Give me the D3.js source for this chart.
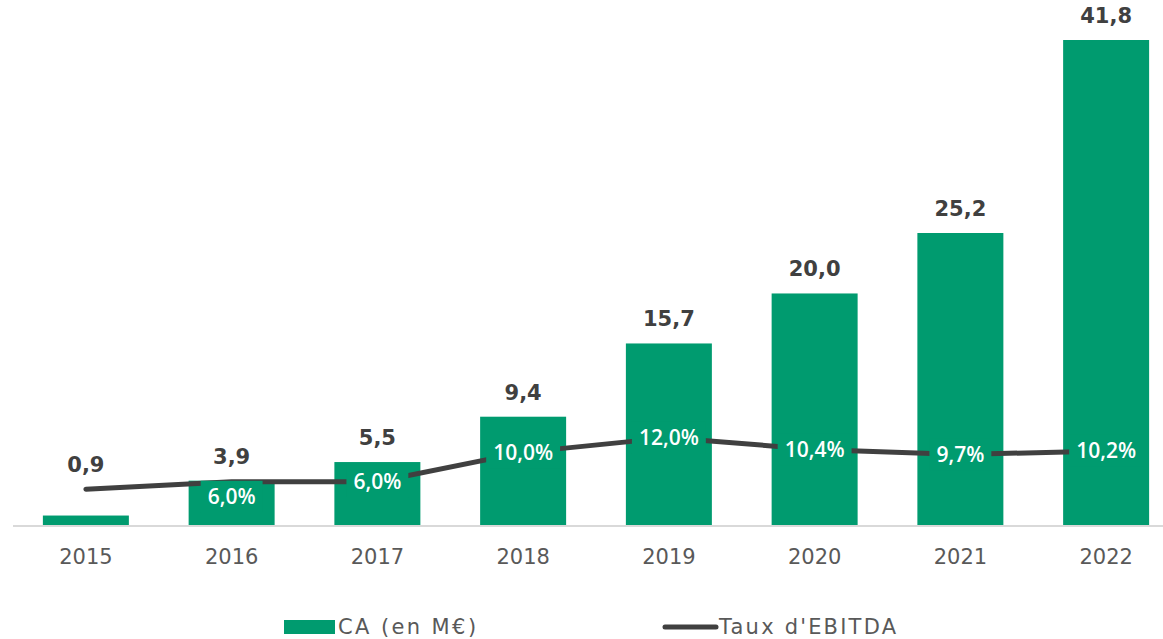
<!DOCTYPE html>
<html>
<head>
<meta charset="utf-8">
<script src="https://cdn.jsdelivr.net/npm/d3@7"></script>
<style>
  body { margin: 0; background: #ffffff; }
  svg { display: block; font-family: "DejaVu Sans", sans-serif; }
</style>
</head>
<body>
<svg id="chart"></svg>
<script>
// chart values
const years = ["2015", "2016", "2017", "2018", "2019", "2020", "2021", "2022"];
const caValues = [0.9, 3.9, 5.5, 9.4, 15.7, 20.0, 25.2, 41.8];
const ebitdaRates = [5.0, 6.0, 6.0, 10.0, 12.0, 10.4, 9.7, 10.2];
const ebitdaLabels = [null, "6,0%", "6,0%", "10,0%", "12,0%", "10,4%", "9,7%", "10,2%"];
const labelsBelow = ["2016"];
const legendNames = ["CA (en M€)", "Taux d'EBITDA"];

const width = 1163;
const height = 639;
const barColor = "#009b6f";
const lineColor = "#404040";
const textGrey = "#595959";

const svg = d3.select("#chart")
    .attr("width", width)
    .attr("height", height);

const baseY = 526;
const topY = 40;

let xScale = d3.scaleBand()
    .domain(years)
    .range([13, 1179])
    .paddingInner(0.41)
    .paddingOuter(0.205);

let yScale = d3.scaleLinear()
    .domain([0, 41.8])
    .range([baseY, topY]);

// secondary axis for the EBITDA rate (not drawn)
let y2Scale = d3.scaleLinear()
    .domain([0, 66])
    .range([baseY, topY]);

const fmt = v => d3.format(".1f")(v).replace(".", ",");
const cx = d => xScale(d) + xScale.bandwidth() / 2;

/* bars */
svg.append("g")
    .selectAll("rect")
    .data(years)
    .join("rect")
    .attr("x", d => xScale(d))
    .attr("y", (d, i) => yScale(caValues[i]))
    .attr("width", xScale.bandwidth())
    .attr("height", (d, i) => baseY - yScale(caValues[i]))
    .attr("fill", barColor);

/* baseline */
svg.append("line")
    .attr("x1", 13)
    .attr("x2", width)
    .attr("y1", baseY)
    .attr("y2", baseY)
    .attr("stroke", "#d9d9d9")
    .attr("stroke-width", 2);

/* x axis */
let xAxis = d3.axisBottom(xScale).tickSize(0).tickPadding(23);
let xAxisG = svg.append("g")
    .attr("transform", "translate(0," + baseY + ")")
    .call(xAxis);
xAxisG.select("path.domain").remove();
xAxisG.selectAll(".tick text")
    .attr("fill", textGrey)
    .style("font-size", "21px")
    .style("font-family", "'DejaVu Sans', sans-serif");

/* value labels above bars (kept above the line too) */
svg.append("g")
    .selectAll("text")
    .data(years)
    .join("text")
    .attr("x", d => cx(d))
    .attr("y", (d, i) => Math.min(yScale(caValues[i]), y2Scale(ebitdaRates[i])) - 17)
    .attr("text-anchor", "middle")
    .attr("fill", lineColor)
    .style("font-size", "21px")
    .style("font-weight", "700")
    .text((d, i) => fmt(caValues[i]));

/* EBITDA line */
let line = d3.line()
    .x(d => cx(d))
    .y((d, i) => y2Scale(ebitdaRates[i]));

svg.append("path")
    .datum(years)
    .attr("d", line)
    .attr("fill", "none")
    .attr("stroke", lineColor)
    .attr("stroke-width", 5)
    .attr("stroke-linecap", "round")
    .attr("stroke-linejoin", "round");

/* EBITDA labels with box in bar colour */
let labelG = svg.append("g");
years.forEach((yr, i) => {
    if (!ebitdaLabels[i]) return;
    let x = cx(yr);
    let y = y2Scale(ebitdaRates[i]);
    if (labelsBelow.includes(yr)) y += 15;
    let g = labelG.append("g");
    let t = g.append("text")
        .attr("x", x)
        .attr("y", y)
        .attr("dy", "0.36em")
        .attr("text-anchor", "middle")
        .attr("fill", "#ffffff")
        .style("font-family", "'Open Sans', sans-serif")
        .style("font-size", "21px")
        .style("font-weight", "600")
        .text(ebitdaLabels[i]);
    let w = t.node().getComputedTextLength() + 14;
    g.insert("rect", "text")
        .attr("x", x - w / 2)
        .attr("y", y - 16)
        .attr("width", w)
        .attr("height", 32)
        .attr("fill", barColor);
});

/* legend */
let legend = svg.append("g");
legend.append("rect")
    .attr("x", 284)
    .attr("y", 620)
    .attr("width", 51)
    .attr("height", 14)
    .attr("fill", barColor);
legend.append("text")
    .attr("x", 338)
    .attr("y", 626)
    .attr("dy", "0.36em")
    .attr("fill", textGrey)
    .style("font-size", "21px")
    .style("letter-spacing", "2.4px")
    .text(legendNames[0]);
legend.append("line")
    .attr("x1", 665)
    .attr("x2", 716)
    .attr("y1", 627)
    .attr("y2", 627)
    .attr("stroke", lineColor)
    .attr("stroke-width", 5)
    .attr("stroke-linecap", "round");
legend.append("text")
    .attr("x", 719)
    .attr("y", 626)
    .attr("dy", "0.36em")
    .attr("fill", textGrey)
    .style("font-size", "21px")
    .style("letter-spacing", "2.2px")
    .text(legendNames[1]);
</script>
</body>
</html>
